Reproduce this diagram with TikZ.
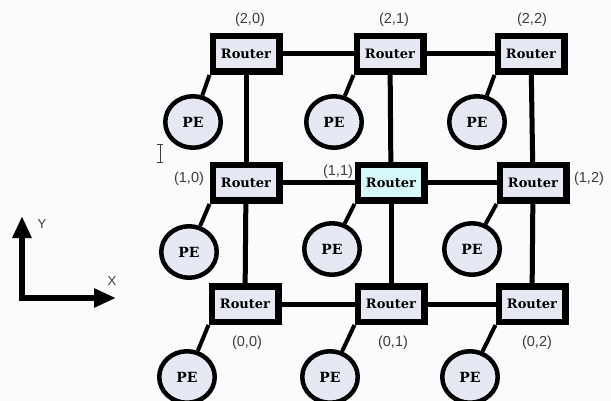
\documentclass[tikz,border=0pt]{standalone}
\usepackage{fontspec}
\setmainfont{DejaVu Serif}
\newfontfamily\lblfont{Liberation Sans}
\usetikzlibrary{arrows.meta,shapes.geometric}
\definecolor{bgc}{RGB}{250,251,253}
\definecolor{boxfill}{RGB}{230,233,243}
\definecolor{cyanfill}{RGB}{214,248,248}
\definecolor{lblgray}{RGB}{60,60,60}
\begin{document}
\begin{tikzpicture}[x=1pt,y=-1pt,
  router/.style={draw=black,line width=6.5pt,fill=boxfill,minimum width=66.5pt,minimum height=35.5pt,inner sep=0pt,font=\bfseries\fontsize{13}{13}\selectfont},
  pe/.style={draw=black,line width=4.5pt,fill=boxfill,ellipse,minimum width=55.5pt,minimum height=51.5pt,inner sep=0pt,font=\bfseries\fontsize{14}{14}\selectfont},
  link/.style={line width=5pt},
  pelink/.style={line width=4pt},
  coord/.style={font=\lblfont\fontsize{14.5}{14.5}\selectfont,text=lblgray,inner sep=0pt},
  axis/.style={line width=6pt,-{Triangle[length=22pt,width=18pt]}}
]
\useasboundingbox (0,0) rectangle (611,401);
\fill[bgc] (0,0) rectangle (611,401);

% routers
\node[router] (r20) at (246,54) {Router};
\node[router] (r21) at (390,54) {Router};
\node[router] (r22) at (531,54) {Router};
\node[router] (r10) at (246,183) {Router};
\node[router,fill=cyanfill] (r11) at (391,183) {Router};
\node[router] (r12) at (533,183) {Router};
\node[router] (r00) at (245,304) {Router};
\node[router] (r01) at (391,304) {Router};
\node[router] (r02) at (532,304) {Router};

% PEs
\node[pe] (p20) at (193,122) {PE};
\node[pe] (p21) at (334,122) {PE};
\node[pe] (p22) at (477,122) {PE};
\node[pe] (p10) at (189,252) {PE};
\node[pe] (p11) at (332,249) {PE};
\node[pe] (p12) at (472,249) {PE};
\node[pe] (p00) at (187,377) {PE};
\node[pe] (p01) at (330,377) {PE};
\node[pe] (p02) at (470,377) {PE};

% mesh links
\draw[link] (r20) -- (r21);
\draw[link] (r21) -- (r22);
\draw[link] (r10) -- (r11);
\draw[link] (r11) -- (r12);
\draw[link] (r00) -- (r01);
\draw[link] (r01) -- (r02);
\draw[link] (r20) -- (r10);
\draw[link] (r10) -- (r00);
\draw[link] (r21) -- (r11);
\draw[link] (r11) -- (r01);
\draw[link] (r22) -- (r12);
\draw[link] (r12) -- (r02);

% PE links
\foreach \a in {20,21,22,10,11,12,00,01,02}{
  \draw[pelink] (r\a.south west) -- (p\a);
}

% coordinate labels
\node[coord] (l20) at (250,20) {(2,0)};
\node[coord] (l21) at (394,20) {(2,1)};
\node[coord] (l22) at (532,20) {(2,2)};
\node[coord] (l10) at (189,179) {(1,0)};
\node[coord] (l11) at (338,172) {(1,1)};
\node[coord] (l12) at (589,179) {(1,2)};
\node[coord] (l00) at (247,343) {(0,0)};
\node[coord] (l01) at (393,343) {(0,1)};
\node[coord] (l02) at (537,343) {(0,2)};

% axes
\coordinate (org) at (22,298);
\coordinate (ytip) at (22,216);
\coordinate (xtip) at (116,298);
\draw[axis] ([yshift=3pt]org) -- (ytip);
\draw[axis] ([xshift=-3pt]org) -- (xtip);
\node[coord,font=\lblfont\fontsize{13}{13}\selectfont] (ylab) at (42,224) {Y};
\node[coord,font=\lblfont\fontsize{13}{13}\selectfont] (xlab) at (112,281) {X};

% text cursor
\draw[line width=0.8pt,lblgray] (160,144) -- (160,162);
\draw[line width=0.8pt,lblgray] (157,144) -- (163,144);
\draw[line width=0.8pt,lblgray] (157,162) -- (163,162);
\end{tikzpicture}
\end{document}
